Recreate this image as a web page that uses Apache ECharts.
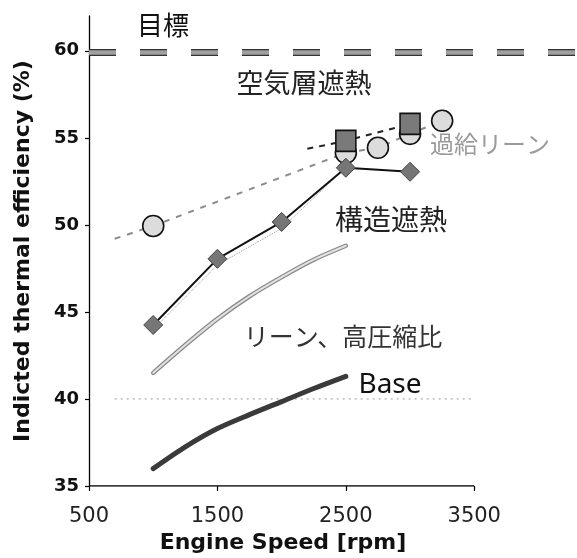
<!DOCTYPE html>
<html>
<head>
<meta charset="utf-8">
<script src="https://cdn.jsdelivr.net/npm/echarts@6/dist/echarts.min.js"></script>
<style>html,body{margin:0;padding:0;background:#fff;}#c{width:577px;height:558px;}</style>
</head>
<body>
<div id="c"></div>
<script>
// ---- data ----
const xTicks = [500, 1500, 2500, 3500];
const yTicks = [35, 40, 45, 50, 55, 60];

const targetRpm = [500, 4300];
const targetEff = [59.9, 59.9];

const baseRefRpm = [700, 3500];
const baseRefEff = [40, 40];

const curveRpm = [1000, 1250, 1500, 1750, 2000, 2250, 2500];
const baseEff = [36.0, 37.25, 38.3, 39.1, 39.85, 40.6, 41.3];
const leanEff = [41.5, 43.1, 44.6, 45.9, 47.0, 48.0, 48.8];

const structRpm = [1000, 1500, 2000, 2500, 3000];
const structEff = [44.25, 48.05, 50.17, 53.28, 53.05];

const structDotRpm = [1000, 1500, 2000, 2500];
const structDotEff = [44.0, 47.7, 49.8, 53.3];

const circleTrendRpm = [700, 1000];
const circleTrendEff = [49.2, 49.94];
const circleRpm = [1000, 2500, 2750, 3000, 3250];
const circleEff = [49.94, 54.14, 54.43, 55.23, 55.98];

const squareTrendRpm = [2200];
const squareTrendEff = [54.37];
const squareRpm = [2500, 3000];
const squareEff = [54.83, 55.8];

// ---- helpers ----
const pairs = (xs, ys) => xs.map((x, i) => [x, ys[i]]);
const chart = echarts.init(document.getElementById('c'));

const circleLine = pairs(circleTrendRpm, circleTrendEff).map(p => ({value: p, symbol: 'none'}))
  .concat(pairs(circleRpm, circleEff));
const squareLine = pairs(squareTrendRpm, squareTrendEff).map(p => ({value: p, symbol: 'none'}))
  .concat(pairs(squareRpm, squareEff));

const cjk = '"Noto Sans CJK JP", "Noto Sans CJK SC", sans-serif';
const latin = '"DejaVu Sans", Verdana, sans-serif';

chart.setOption({
  animation: false,
  backgroundColor: '#fff',
  grid: {left: 89, right: 0, top: 16, bottom: 72, containLabel: false},
  xAxis: {
    type: 'value', min: 500, max: 4300, interval: 1000,
    axisLine: {show: false},
    splitLine: {show: false},
    axisTick: {show: true, length: 5, customValues: xTicks, lineStyle: {color: '#000', width: 1.2}},
    axisLabel: {customValues: xTicks, margin: 20, fontSize: 21, fontFamily: latin, color: '#222',
      formatter: v => String(v)}
  },
  yAxis: {
    type: 'value', min: 35, max: 62, interval: 5,
    name: 'Indicted thermal efficiency (%)', nameLocation: 'middle', nameRotate: 90, nameGap: 55,
    nameTextStyle: {fontSize: 22, fontWeight: 'bold', fontFamily: latin, color: '#111'},
    axisLine: {show: true, lineStyle: {color: '#000', width: 1.3}},
    splitLine: {show: false},
    axisTick: {show: true, length: 4, customValues: yTicks, lineStyle: {color: '#000', width: 1.2}},
    axisLabel: {customValues: yTicks, margin: 10, fontSize: 18, fontWeight: 'bold',
      fontFamily: latin, color: '#111', formatter: v => String(v)}
  },
  series: [
    {type: 'line', name: 'xaxis', data: [[500, 35], [3500, 35]], symbol: 'none', silent: true,
      lineStyle: {color: '#000', width: 1.3}, z: 1},
    {type: 'line', name: 'target-o', data: pairs(targetRpm, targetEff), symbol: 'none',
      lineStyle: {color: '#333', width: 7, type: [27, 24]}, z: 2},
    {type: 'line', name: 'target-i', data: pairs(targetRpm, targetEff), symbol: 'none',
      lineStyle: {color: '#a0a0a0', width: 4.5, type: [27, 24]}, z: 3},
    {type: 'line', name: 'baseref', data: pairs(baseRefRpm, baseRefEff), symbol: 'none',
      lineStyle: {color: '#9a9a9a', width: 1, type: [2, 4]}, z: 2},
    {type: 'line', name: 'base', data: pairs(curveRpm, baseEff), symbol: 'none', smooth: 0.3,
      lineStyle: {color: '#3a3a3a', width: 5, cap: 'round'}, z: 3},
    {type: 'line', name: 'lean-o', data: pairs(curveRpm, leanEff), symbol: 'none', smooth: 0.3,
      lineStyle: {color: '#8a8a8a', width: 4.5, cap: 'round'}, z: 3},
    {type: 'line', name: 'lean-i', data: pairs(curveRpm, leanEff), symbol: 'none', smooth: 0.3,
      lineStyle: {color: '#e2e2e2', width: 2, cap: 'round'}, z: 4},
    {type: 'line', name: 'structdot', data: pairs(structDotRpm, structDotEff), symbol: 'none',
      lineStyle: {color: '#999', width: 1, type: 'dotted'}, z: 4},
    {type: 'line', name: 'circle', data: circleLine, symbol: 'circle', symbolSize: 21,
      itemStyle: {color: '#dcdcdc', borderColor: '#111', borderWidth: 1.6},
      lineStyle: {color: '#8c8c8c', width: 2, type: [6, 7]}, z: 5},
    {type: 'line', name: 'square', data: squareLine, symbol: 'rect', symbolSize: [20, 21],
      itemStyle: {color: '#7a7a7a', borderColor: '#111', borderWidth: 1.6},
      lineStyle: {color: '#222', width: 2, type: [6, 6]}, z: 6},
    {type: 'line', name: 'struct', data: pairs(structRpm, structEff), symbol: 'diamond', symbolSize: 19,
      itemStyle: {color: '#767676', borderColor: '#444', borderWidth: 1},
      lineStyle: {color: '#111', width: 2}, z: 7}
  ],
  graphic: [
    {type: 'text', x: 163, y: 25, style: {text: '目標', font: '26px ' + cjk, fill: '#111', align: 'center', verticalAlign: 'middle'}},
    {type: 'text', x: 304, y: 83, style: {text: '空気層遮熱', font: '27px ' + cjk, fill: '#222', align: 'center', verticalAlign: 'middle'}},
    {type: 'text', x: 391, y: 219, style: {text: '構造遮熱', font: '28px ' + cjk, fill: '#222', align: 'center', verticalAlign: 'middle'}},
    {type: 'text', x: 490, y: 144, style: {text: '過給リーン', font: '24px ' + cjk, fill: '#9a9a9a', align: 'center', verticalAlign: 'middle'}},
    {type: 'text', x: 343, y: 336, style: {text: 'リーン、高圧縮比', font: '25px ' + cjk, fill: '#333', align: 'center', verticalAlign: 'middle'}},
    {type: 'text', x: 390, y: 385, style: {text: 'Base', font: '28px "Noto Sans", sans-serif', fill: '#111', align: 'center', verticalAlign: 'middle'}},
    {type: 'text', x: 283, y: 543, style: {text: 'Engine Speed [rpm]', font: 'bold 22px ' + latin, fill: '#111', align: 'center', verticalAlign: 'middle'}}
  ]
});
</script>
</body>
</html>
